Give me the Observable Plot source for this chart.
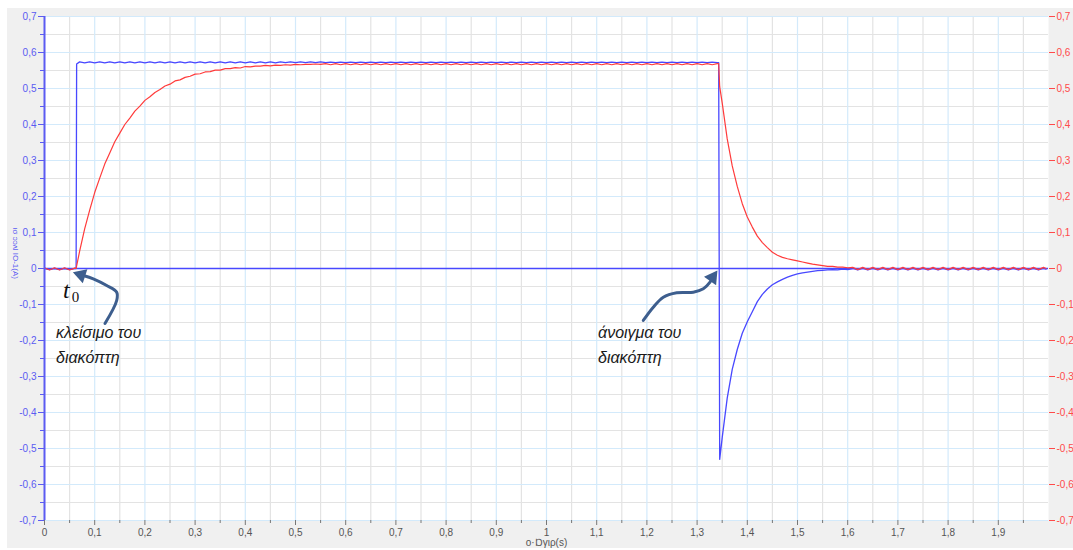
<!DOCTYPE html>
<html><head><meta charset="utf-8">
<script src="https://cdn.jsdelivr.net/npm/d3@7"></script>
<script src="https://cdn.jsdelivr.net/npm/@observablehq/plot@0.6"></script>
<style>
body{margin:0;background:#fff;}
#frame{position:absolute;left:7px;top:8px;width:1066px;height:540px;background:#f0f0f0;}
#chart{position:absolute;left:0;top:0;}
</style>
</head><body>
<div id="frame"></div>
<div id="chart"></div>
<script>
// sample times (s)
const T = [
 0,0.01,0.02,0.03,0.04,0.05,0.06,0.063,0.064,
 0.07,0.08,0.09,0.10,0.11,0.12,0.13,0.14,0.15,0.16,
 0.17,0.18,0.19,0.20,0.21,0.22,0.23,0.24,0.25,0.26,
 0.27,0.28,0.29,0.30,0.31,0.32,0.33,0.34,0.35,0.36,
 0.37,0.38,0.39,0.40,0.41,0.42,0.43,0.44,0.45,0.46,
 0.47,0.48,0.49,0.50,0.51,0.52,0.53,0.54,0.55,0.56,
 0.57,0.58,0.59,0.60,0.61,0.62,0.63,0.64,0.65,0.66,
 0.67,0.68,0.69,0.70,0.71,0.72,0.73,0.74,0.75,0.76,
 0.77,0.78,0.79,0.80,0.81,0.82,0.83,0.84,0.85,0.86,
 0.87,0.88,0.89,0.90,0.91,0.92,0.93,0.94,0.95,0.96,
 0.97,0.98,0.99,1.00,1.01,1.02,1.03,1.04,1.05,1.06,
 1.07,1.08,1.09,1.10,1.11,1.12,1.13,1.14,1.15,1.16,
 1.17,1.18,1.19,1.20,1.21,1.22,1.23,1.24,1.25,1.26,
 1.27,1.28,1.29,1.30,1.31,1.32,1.33,1.34,
 1.343,1.345,
 1.35,1.36,1.37,1.38,1.39,1.40,1.41,1.42,1.43,1.44,
 1.45,1.46,1.47,1.48,1.49,1.50,1.51,1.52,1.53,1.54,
 1.55,1.56,1.57,1.58,1.59,1.60,1.61,1.62,1.63,1.64,
 1.65,1.66,1.67,1.68,1.69,1.70,1.71,1.72,1.73,1.74,
 1.75,1.76,1.77,1.78,1.79,1.80,1.81,1.82,1.83,1.84,
 1.85,1.86,1.87,1.88,1.89,1.90,1.91,1.92,1.93,1.94,
 1.95,1.96,1.97,1.98,1.99,1.995
];
// blue trace
const blueV = [
 0,-0.003,0,-0.003,0,-0.003,0,0,0.568,
 0.574,0.571,0.574,0.571,0.574,0.571,0.574,0.571,0.574,0.571,
 0.574,0.571,0.574,0.571,0.574,0.571,0.574,0.571,0.574,0.571,
 0.574,0.571,0.574,0.571,0.574,0.571,0.574,0.571,0.574,0.571,
 0.574,0.571,0.574,0.571,0.574,0.571,0.574,0.571,0.574,0.571,
 0.574,0.572,0.574,0.572,0.574,0.572,0.574,0.572,0.574,0.572,
 0.573,0.572,0.573,0.572,0.573,0.572,0.573,0.572,0.573,0.572,
 0.573,0.572,0.573,0.572,0.573,0.572,0.573,0.572,0.573,0.572,
 0.573,0.572,0.573,0.572,0.573,0.572,0.573,0.572,0.573,0.572,
 0.573,0.572,0.573,0.572,0.573,0.572,0.573,0.572,0.573,0.572,
 0.573,0.572,0.573,0.572,0.573,0.572,0.573,0.572,0.573,0.572,
 0.573,0.572,0.573,0.572,0.573,0.572,0.573,0.572,0.573,0.572,
 0.573,0.572,0.573,0.572,0.573,0.572,0.573,0.572,0.573,0.572,
 0.573,0.572,0.573,0.572,0.573,0.572,0.573,0.572,
 0.572,-0.53,
 -0.47,-0.36,-0.28,-0.225,-0.18,-0.148,-0.12,-0.092,-0.072,-0.057,
 -0.045,-0.037,-0.03,-0.024,-0.019,-0.015,-0.012,-0.01,-0.008,-0.006,
 -0.005,-0.004,-0.003,-0.004,-0.002,-0.003,0,-0.004,0,-0.004,
 0,-0.004,0,-0.004,0,-0.004,0,-0.004,0,-0.004,
 0,-0.004,0,-0.004,0,-0.004,0,-0.004,0,-0.004,
 0,-0.004,0,-0.004,0,-0.004,0,-0.004,0,-0.004,
 0,-0.004,0,-0.004,0,-0.002
];
// red trace
const redV = [
 0.002,-0.004,0.002,-0.004,0.002,-0.004,0.001,0,0.007,
 0.048,0.110,0.162,0.211,0.251,0.290,0.321,0.352,0.376,0.400,
 0.418,0.437,0.451,0.467,0.477,0.489,0.497,0.507,0.512,0.521,
 0.524,0.531,0.534,0.540,0.541,0.546,0.547,0.551,0.551,0.555,
 0.555,0.558,0.557,0.561,0.560,0.562,0.562,0.564,0.563,0.565,
 0.564,0.566,0.565,0.567,0.566,0.567,0.567,0.568,0.567,0.569,
 0.566,0.569,0.566,0.569,0.566,0.569,0.566,0.569,0.566,0.569,
 0.566,0.569,0.566,0.569,0.566,0.569,0.566,0.569,0.566,0.569,
 0.566,0.569,0.566,0.569,0.566,0.569,0.566,0.569,0.566,0.569,
 0.566,0.569,0.566,0.569,0.566,0.569,0.566,0.569,0.566,0.569,
 0.566,0.569,0.566,0.569,0.566,0.569,0.566,0.569,0.566,0.569,
 0.566,0.569,0.566,0.569,0.566,0.569,0.566,0.569,0.566,0.569,
 0.566,0.569,0.566,0.569,0.566,0.569,0.566,0.569,0.566,0.569,
 0.566,0.569,0.566,0.569,0.566,0.569,0.566,0.569,
 0.569,0.505,
 0.46,0.36,0.285,0.228,0.18,0.143,0.115,0.09,0.072,0.058,
 0.045,0.037,0.031,0.027,0.024,0.021,0.018,0.015,0.012,0.01,
 0.008,0.006,0.006,0.004,0.004,0.002,0.003,-0.003,0.003,-0.003,
 0.003,-0.003,0.003,-0.003,0.003,-0.003,0.003,-0.003,0.003,-0.003,
 0.003,-0.003,0.003,-0.003,0.003,-0.003,0.003,-0.003,0.003,-0.003,
 0.003,-0.003,0.003,-0.003,0.003,-0.003,0.003,-0.003,0.003,-0.003,
 0.003,-0.003,0.003,-0.003,0.003,0
];
const yTickValues = [-0.7,-0.6,-0.5,-0.4,-0.3,-0.2,-0.1,0,0.1,0.2,0.3,0.4,0.5,0.6,0.7];
const xTickValues = [0,0.1,0.2,0.3,0.4,0.5,0.6,0.7,0.8,0.9,1,1.1,1.2,1.3,1.4,1.5,1.6,1.7,1.8,1.9];
const xLabel = "ο·Ɒγιρ(s)";
const yLabel = "ισ ɔɔʌl ΙΟ-1(A)";
const notes = [
  {t: 0.023, v: -0.192, text: "κλείσιμο του"},
  {t: 0.023, v: -0.262, text: "διακόπτη"},
  {t: 1.1026, v: -0.192, text: "άνοιγμα του"},
  {t: 1.1026, v: -0.262, text: "διακόπτη"}
];
const arrow1 = [[0.1205,-0.1528],[0.1438,-0.0889],[0.1438,-0.0658],[0.1239,-0.0472],[0.0972,-0.0286],[0.0773,-0.0194]];
const arrow2 = [[1.1928,-0.1444],[1.2127,-0.1075],[1.2327,-0.0797],[1.2594,-0.0675],[1.2924,-0.0658],[1.3124,-0.0564],[1.3257,-0.0381],[1.3307,-0.025]];
const heads = [{t:0.0727, v:-0.018, a:-72},{t:1.3307, v:-0.025, a:35}];

const BLUE = "#4848ff", RED = "#ff3b3b", AXB = "#5b5bf2", AXR = "#ff4a4a", ARW = "#3d5e8e";
const GRIDB = "#d3eafb", GRIDG = "#e3e3e3";
const fmt = v => Math.abs(v) < 1e-9 ? "0" : (Math.round(v * 10) / 10).toString().replace(".", ",");

const blueData = T.map((t, i) => ({t, v: blueV[i]}));
const redData = T.map((t, i) => ({t, v: redV[i]}));
const yMinor = yTickValues.slice(0, -1).map(d => Math.round((d + 0.05) * 100) / 100);
const xMinor = xTickValues.map(d => Math.round((d + 0.05) * 100) / 100);
const arrowRows = (a) => a.map(([t, v]) => ({t, v}));

const chart = Plot.plot({
  width: 1073, height: 550,
  marginLeft: 44, marginRight: 25, marginTop: 16, marginBottom: 30,
  style: {background: "transparent", fontFamily: "'Liberation Sans', Arial, sans-serif", fontSize: "10px"},
  x: {domain: [0, 2], label: null},
  y: {domain: [-0.7, 0.7], label: null},
  marks: [
    Plot.frame({fill: "white", stroke: "none"}),
    Plot.ruleX(xMinor, {stroke: GRIDG, strokeWidth: 1.2}),
    Plot.ruleY(yMinor, {stroke: GRIDG, strokeWidth: 1.2}),
    Plot.ruleX(xTickValues.slice(1), {stroke: GRIDB, strokeWidth: 1.2}),
    Plot.ruleY(yTickValues, {stroke: GRIDB, strokeWidth: 1.2}),
    Plot.ruleY([0], {stroke: BLUE, strokeWidth: 1.4}),
    Plot.line(blueData, {x: "t", y: "v", stroke: BLUE, strokeWidth: 1.3}),
    Plot.line(redData, {x: "t", y: "v", stroke: RED, strokeWidth: 1.2}),
    Plot.ruleX([0], {stroke: AXB, strokeWidth: 2}),
    Plot.axisY(yMinor, {anchor: "left", tickSize: 4, tickFormat: () => "", stroke: AXB, label: null}),
    Plot.axisY(yTickValues, {anchor: "left", tickSize: 6, tickPadding: 2, tickFormat: fmt, stroke: AXB, fill: AXB, label: null, fontSize: 10}),
    Plot.axisY(yTickValues, {anchor: "right", tickSize: 6, tickPadding: 2, tickFormat: fmt, stroke: AXR, fill: AXR, label: null, fontSize: 10}),
    Plot.axisX(xMinor.slice(0, -1).concat([1.95]), {tickSize: 3, tickFormat: () => "", stroke: "#777", label: null}),
    Plot.axisX(xTickValues, {tickSize: 5, tickPadding: 3, tickFormat: fmt, stroke: "#777", fill: "#555", label: null, fontSize: 10}),
    Plot.text([xLabel], {x: () => 1, y: () => -0.772, text: d => d, fill: "#555", fontSize: 10, lineAnchor: "bottom"}),
    Plot.text([yLabel], {x: () => -0.058, y: () => 0.042, text: d => d, rotate: 90, fill: AXB, fontSize: 8}),
    Plot.line(arrowRows(arrow1), {x: "t", y: "v", curve: "catmull-rom", stroke: ARW, strokeWidth: 3}),
    Plot.line(arrowRows(arrow2), {x: "t", y: "v", curve: "catmull-rom", stroke: ARW, strokeWidth: 3}),
    Plot.dot(heads, {x: "t", y: "v", symbol: "triangle", r: 5.5, fill: ARW, stroke: "none", rotate: "a"}),
    Plot.text(notes, {x: "t", y: "v", text: "text", textAnchor: "start", lineAnchor: "bottom", fontStyle: "italic", fontSize: 16, fontFamily: "'Liberation Sans', Arial, sans-serif", fill: "#1a1a1a"}),
    Plot.text(["t"], {x: () => 0.037, y: () => -0.083, text: d => d, textAnchor: "start", lineAnchor: "bottom", fontStyle: "italic", fontSize: 24, fontFamily: "'Liberation Serif', 'Times New Roman', serif", fill: "#111"}),
    Plot.text(["0"], {x: () => 0.0545, y: () => -0.094, text: d => d, textAnchor: "start", lineAnchor: "bottom", fontSize: 15, fontFamily: "'Liberation Serif', 'Times New Roman', serif", fill: "#111"})
  ]
});
document.getElementById("chart").appendChild(chart);
</script>
</body></html>
